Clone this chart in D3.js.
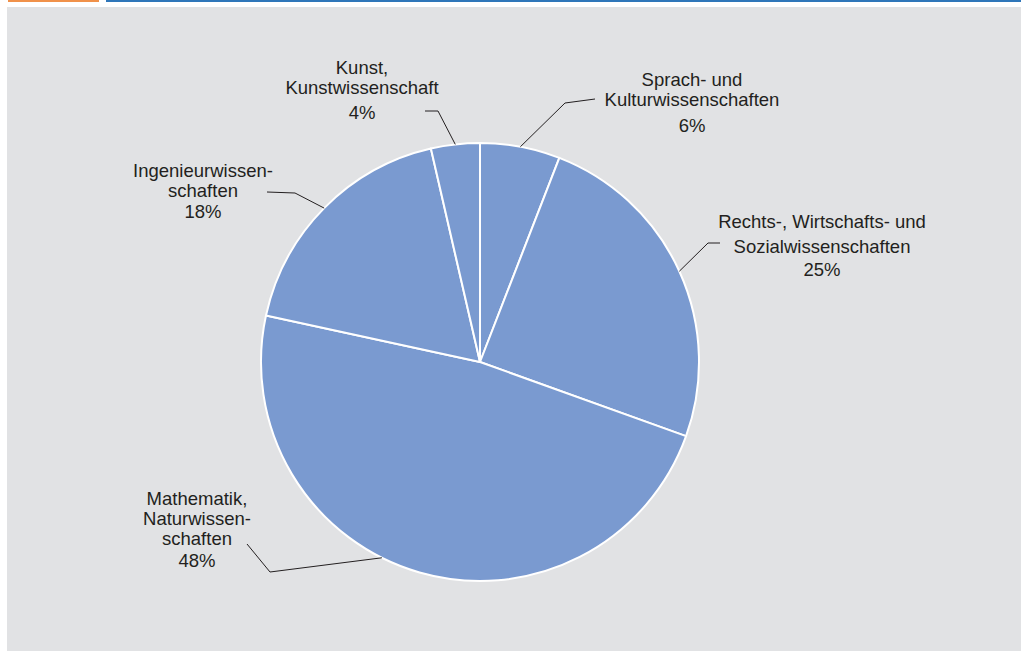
<!DOCTYPE html>
<html>
<head>
<meta charset="utf-8">
<script src="https://cdn.jsdelivr.net/npm/d3@7"></script>
<style>
  html, body { margin: 0; padding: 0; background: #fff; }
  svg { display: block; }
  text { font-family: "Liberation Sans", Arial, Helvetica, sans-serif; fill: #231f20; }
</style>
</head>
<body>
<script>
// Shares of the subject groups, clockwise from 12 o'clock
const categories = ['Sprach- und Kulturwissenschaften', 'Rechts-, Wirtschafts- und Sozialwissenschaften',
  'Mathematik, Naturwissenschaften', 'Ingenieurwissenschaften', 'Kunst, Kunstwissenschaft'];
const shares = [5.9, 24.6, 47.9, 18.0, 3.6];
const labelLines = [
  ['Sprach- und', 'Kulturwissenschaften'],
  ['Rechts-, Wirtschafts- und', 'Sozialwissenschaften'],
  ['Mathematik,', 'Naturwissen-', 'schaften'],
  ['Ingenieurwissen-', 'schaften'],
  ['Kunst,', 'Kunstwissenschaft']
];
const percentLabels = shares.map(v => Math.round(v) + '%');

// label placement: text centre, first baseline, line gap, gap before %, leader elbow + end, angle shift
const labelLayout = [
  { x: 692, y: 86, gap: 20, pgap: 26, elbow: [565, 103], end: [595, 99], shift: 0 },
  { x: 822, y: 228, gap: 25, pgap: 23, elbow: [708, 243], end: [720, 243], shift: 0 },
  { x: 197, y: 505, gap: 20, pgap: 22, elbow: [270, 572], end: [247, 544], shift: 0.185 },
  { x: 203, y: 177, gap: 20, pgap: 21, elbow: [295, 193], end: [267, 192], shift: 0 },
  { x: 362, y: 74, gap: 20, pgap: 25, elbow: [438, 111], end: [425, 111], shift: 0 }
];

const width = 1021, height = 651;
const cx = 480, cy = 362, radius = 219;

const svg = d3.select('body').append('svg')
  .attr('width', width)
  .attr('height', height);

// frame: grey panel and two header rules
svg.append('rect').attr('x', 7).attr('y', 7).attr('width', width - 7).attr('height', height - 7).attr('fill', '#e1e2e4');
svg.append('rect').attr('x', 8).attr('y', 0).attr('width', 91).attr('height', 2).attr('fill', '#f0914a');
svg.append('rect').attr('x', 106).attr('y', 0).attr('width', width - 106).attr('height', 2).attr('fill', '#2f76b9');

const pie = d3.pie().sort(null).value(d => d);
const arcs = pie(shares);
const arc = d3.arc().innerRadius(0).outerRadius(radius);

const g = svg.append('g').attr('transform', `translate(${cx},${cy})`);

g.selectAll('path.slice')
  .data(arcs)
  .join('path')
  .attr('class', 'slice')
  .attr('d', arc)
  .attr('fill', '#7a9ad0')
  .attr('stroke', '#fff')
  .attr('stroke-width', 2)
  .attr('stroke-linejoin', 'round');

// leader lines
arcs.forEach((a, i) => {
  const L = labelLayout[i];
  const ang = (a.startAngle + a.endAngle) / 2 + L.shift;
  const sx = cx + radius * Math.sin(ang);
  const sy = cy - radius * Math.cos(ang);
  svg.append('polyline')
    .attr('points', [[sx, sy], L.elbow, L.end].map(p => p.join(',')).join(' '))
    .attr('fill', 'none')
    .attr('stroke', '#231f20')
    .attr('stroke-width', 1);

  const t = svg.append('text')
    .attr('text-anchor', 'middle')
    .attr('font-size', '18.5px');
  labelLines[i].forEach((line, j) => {
    t.append('tspan').attr('x', L.x).attr('y', L.y + j * L.gap).text(line);
  });
  t.append('tspan')
    .attr('x', L.x)
    .attr('y', L.y + (labelLines[i].length - 1) * L.gap + L.pgap)
    .text(percentLabels[i]);
});
</script>
</body>
</html>
